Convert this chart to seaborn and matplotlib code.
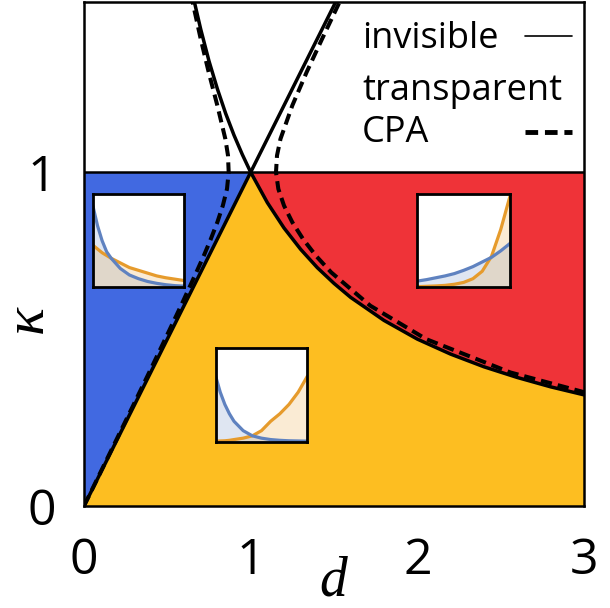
import numpy as np
import pandas as pd
import matplotlib
matplotlib.use("Agg")
import matplotlib.pyplot as plt
import seaborn as sns

# boundaries
d_diag = [0.0, 1.0, 1.51]
k_diag = [0.0, 1.0, 1.51]

d_inv = [0.66, 0.7, 0.75, 0.8, 0.85, 0.9, 0.95, 1.0, 1.1, 1.2, 1.3, 1.4, 1.5,
         1.6, 1.8, 2.0, 2.2, 2.4, 2.6, 2.8, 3.0]
k_inv = [1.515, 1.429, 1.333, 1.25, 1.176, 1.111, 1.053, 1.0, 0.909, 0.833,
         0.769, 0.714, 0.667, 0.625, 0.556, 0.5, 0.455, 0.417, 0.385, 0.357, 0.333]

# CPA curves (dashed)
k_cpa_left = [0.0, 0.05, 0.2, 0.3, 0.4, 0.5, 0.6, 0.7, 0.75, 0.8, 0.85, 0.9, 0.95,
              1.0, 1.05, 1.1, 1.2, 1.3, 1.4, 1.5, 1.55]
d_cpa_left = [0.0, 0.049, 0.196, 0.294, 0.391, 0.487, 0.582, 0.674, 0.719, 0.761,
              0.800, 0.833, 0.858, 0.868, 0.864, 0.848, 0.800, 0.748, 0.700, 0.656, 0.636]
k_cpa_right = [0.34, 0.4, 0.5, 0.6, 0.7, 0.75, 0.8, 0.85, 0.9, 0.95, 1.0, 1.05, 1.1,
               1.2, 1.3, 1.4, 1.5, 1.55]
d_cpa_right = [3.008, 2.559, 2.053, 1.718, 1.483, 1.391, 1.314, 1.250, 1.200, 1.166,
               1.152, 1.158, 1.179, 1.250, 1.336, 1.429, 1.524, 1.572]

# inset profiles (x from 0 to 1)
x_in = [0, 0.05, 0.1, 0.15, 0.2, 0.3, 0.4, 0.5, 0.6, 0.7, 0.8, 0.9, 1.0]
blue_in1 = [0.87, 0.66, 0.50, 0.38, 0.31, 0.20, 0.13, 0.09, 0.06, 0.04, 0.025, 0.015, 0.01]
orange_in1 = [0.45, 0.41, 0.37, 0.34, 0.31, 0.26, 0.21, 0.18, 0.15, 0.12, 0.10, 0.085, 0.07]
blue_in2 = [0.064, 0.072, 0.08, 0.09, 0.10, 0.12, 0.145, 0.18, 0.22, 0.27, 0.32, 0.39, 0.47]
orange_in2 = [0.005, 0.006, 0.008, 0.01, 0.012, 0.018, 0.03, 0.05, 0.09, 0.17, 0.33, 0.62, 0.98]
blue_in3 = [0.70, 0.53, 0.40, 0.30, 0.22, 0.12, 0.065, 0.04, 0.025, 0.017, 0.012, 0.01, 0.008]
orange_in3 = blue_in3[::-1]

BLUE = "#4169e1"
RED = "#ef3338"
YELLOW = "#fdbe21"
LBLUE = "#5f82c0"
LORANGE = "#e69b2c"

sns.set_style("white")
plt.rcParams['font.family'] = ['Open Sans', 'DejaVu Sans']
plt.rcParams['text.color'] = 'black'
plt.rcParams['xtick.color'] = 'black'
plt.rcParams['ytick.color'] = 'black'

fig = plt.figure(figsize=(6.1, 6.08), dpi=100)
ax = fig.add_axes([84 / 610, 102 / 608, 500 / 610, 504 / 608])

# regions
ax.fill_between([0, 1], [0, 1], 1, color=BLUE, lw=0, zorder=1)
d_y = [0.0] + d_inv[7:]
k_y = [0.0] + k_inv[7:]
ax.fill_between(d_y, 0, k_y, color=YELLOW, lw=0, zorder=1)
ax.fill_between(d_inv[7:], k_inv[7:], 1, color=RED, lw=0, zorder=1)
ax.axhline(1, color="black", lw=1.8, zorder=2)

lines = pd.DataFrame({"d": d_diag, "k": k_diag})
sns.lineplot(data=lines, x="d", y="k", color="black", lw=2.5, ax=ax, zorder=3)
sns.lineplot(x=d_inv, y=k_inv, color="black", lw=2.5, ax=ax, zorder=3)
for dd, kk in [(d_cpa_left, k_cpa_left), (d_cpa_right, k_cpa_right)]:
    sns.lineplot(x=dd, y=kk, sort=False, estimator=None, color="black", lw=2.9,
                 ax=ax, zorder=4, dashes=False)
    ax.lines[-1].set_dashes([2.8, 1.5])

ax.set_xlim(0, 3)
ax.set_ylim(0, 1.51)
ax.set_xticks([0, 1, 2, 3])
ax.set_yticks([0, 1])
ax.tick_params(axis="both", length=0, labelsize=36, labelcolor="black")
ax.tick_params(axis="x", pad=22)
ax.tick_params(axis="y", pad=20)
ax.set_xlabel("")
ax.set_ylabel("")
for s in ax.spines.values():
    s.set_linewidth(1.8)
    s.set_color("black")
    s.set_zorder(6)

fig.text(333 / 610, 1 - 582 / 608, "d", fontsize=40, family="Liberation Serif",
         style="italic", ha="center", va="center", color="black")
fig.text(28 / 610, 1 - 319 / 608, "κ", fontsize=42, family="Liberation Serif",
         style="italic", ha="center", va="center", rotation=90, color="black")

# legend-like annotations
for label, yy in [("invisible", 0.909), ("transparent", 0.806), ("CPA", 0.722)]:
    ax.text(0.556, yy, label, transform=ax.transAxes, fontsize=26, va="baseline",
            color="black")
ax.plot([0.882, 0.976], [0.9325, 0.9325], transform=ax.transAxes, color="black", lw=1.2)
ax.plot([0.882, 0.976], [0.742, 0.742], transform=ax.transAxes, color="black", lw=3.5,
        dashes=[2.6, 1.4])

# insets
insets = [
    ([0.054, 0.656, 0.546, 0.278], blue_in1, orange_in1),
    ([2.0, 0.656, 0.556, 0.278], blue_in2, orange_in2),
    ([0.79, 0.192, 0.55, 0.281], blue_in3, orange_in3),
]
for bounds, yb, yo in insets:
    ia = ax.inset_axes(bounds, transform=ax.transData, zorder=7)
    ia.set_facecolor("white")
    ia.fill_between(x_in, 0, yb, color=LBLUE, alpha=0.2, lw=0)
    ia.fill_between(x_in, 0, yo, color=LORANGE, alpha=0.2, lw=0)
    sns.lineplot(x=x_in, y=yo, color=LORANGE, lw=2.3, ax=ia)
    sns.lineplot(x=x_in, y=yb, color=LBLUE, lw=2.3, ax=ia)
    ia.set_xlim(0, 1)
    ia.set_ylim(0, 1)
    ia.set_xticks([])
    ia.set_yticks([])
    for s in ia.spines.values():
        s.set_linewidth(2.0)
        s.set_color("black")

fig.savefig("out.png", dpi=100)
